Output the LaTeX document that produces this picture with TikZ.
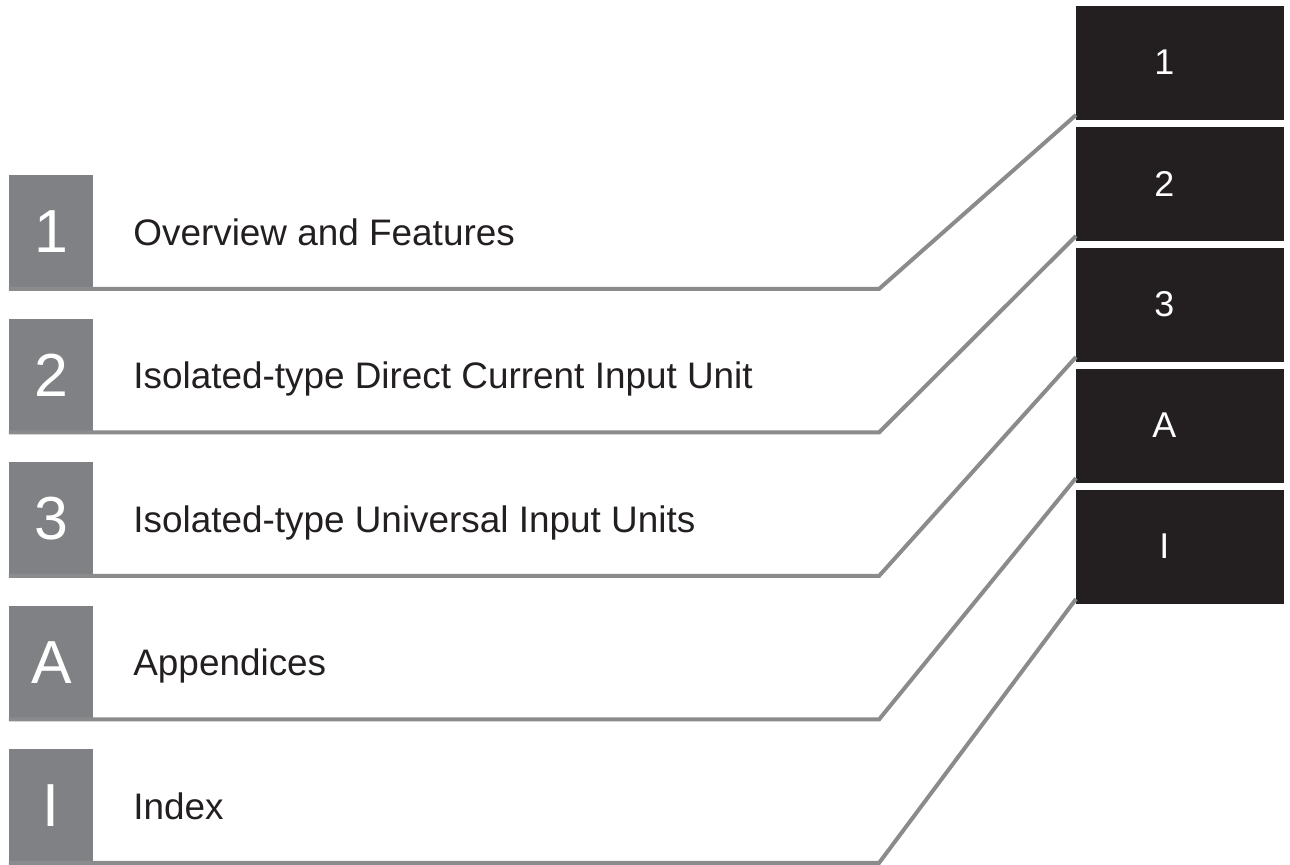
\documentclass[tikz,border=0pt]{standalone}
\usepackage{fontspec}
\setmainfont{Liberation Sans}
\usetikzlibrary{positioning}

\definecolor{boxgray}{RGB}{128,129,133}
\definecolor{linegray}{RGB}{138,139,141}
\definecolor{tabblack}{RGB}{35,31,32}

\tikzset{
  numbox/.style={fill=boxgray, text=white, anchor=south west, inner sep=0pt,
    minimum width=1.68cm, minimum height=2.27cm, font=\fontsize{34.6}{40}\selectfont},
  chapter/.style={anchor=base west, inner sep=0pt, text=tabblack,
    font=\fontsize{21}{25}\selectfont},
  tabbox/.style={fill=tabblack, anchor=south west, inner sep=0pt,
    minimum width=4.16cm, minimum height=2.28cm},
  tabtext/.style={text=white, inner sep=0pt, font=\fontsize{20.4}{24}\selectfont},
  leader/.style={draw=linegray, line width=2.27pt}
}

\begin{document}
\begin{tikzpicture}
\useasboundingbox (0,0) rectangle (25.8,17.3);
\node[numbox] (box1) at (0.18, 11.52) {1}; % Chapter.1
\node[numbox] (box2) at (0.18, 8.65) {2}; % Chapter.2
\node[numbox] (box3) at (0.18, 5.78) {3}; % Chapter.3
\node[numbox] (boxA) at (0.18, 2.91) {A}; % Chapter.A
\node[numbox] (boxI) at (0.18, 0.04) {I}; % Chapter.I
\node[chapter] (title1) at (2.66, 12.39) {Overview and Features}; % Chapter.1
\node[chapter] (title2) at (2.66, 9.52) {Isolated-type Direct Current Input Unit}; % Chapter.2
\node[chapter] (title3) at (2.66, 6.65) {Isolated-type Universal Input Units}; % Chapter.3
\node[chapter] (titleA) at (2.66, 3.78) {Appendices}; % Chapter.A
\node[chapter] (titleI) at (2.66, 0.91) {Index}; % Chapter.I
\node[tabbox] (tab1) at (21.52, 14.90) {}; % Tab.1
\node[tabbox] (tab2) at (21.52, 12.48) {}; % Tab.2
\node[tabbox] (tab3) at (21.52, 10.06) {}; % Tab.3
\node[tabbox] (tabA) at (21.52, 7.64) {}; % Tab.A
\node[tabbox] (tabI) at (21.52, 5.22) {}; % Tab.I
\coordinate (bend1) at (17.58, 11.52); % Leader.1
\coordinate (bend2) at (17.58, 8.65); % Leader.2
\coordinate (bend3) at (17.58, 5.78); % Leader.3
\coordinate (bendA) at (17.58, 2.91); % Leader.A
\coordinate (bendI) at (17.58, 0.04); % Leader.I
\draw[leader] (box1.south west) -- (bend1) -- ([yshift=0.1cm]tab1.south west); % Leader.1
\draw[leader] (box2.south west) -- (bend2) -- ([yshift=0.1cm]tab2.south west); % Leader.2
\draw[leader] (box3.south west) -- (bend3) -- ([yshift=0.1cm]tab3.south west); % Leader.3
\draw[leader] (boxA.south west) -- (bendA) -- ([yshift=0.1cm]tabA.south west); % Leader.A
\draw[leader] (boxI.south west) -- (bendI) -- ([yshift=0.1cm]tabI.south west); % Leader.I
\node[tabtext] (mark1) at ([xshift=-0.32cm]tab1.center) {1}; % Tab.1
\node[tabtext] (mark2) at ([xshift=-0.32cm]tab2.center) {2}; % Tab.2
\node[tabtext] (mark3) at ([xshift=-0.32cm]tab3.center) {3}; % Tab.3
\node[tabtext] (markA) at ([xshift=-0.32cm]tabA.center) {A}; % Tab.A
\node[tabtext] (markI) at ([xshift=-0.32cm]tabI.center) {I}; % Tab.I
\end{tikzpicture}
\end{document}
